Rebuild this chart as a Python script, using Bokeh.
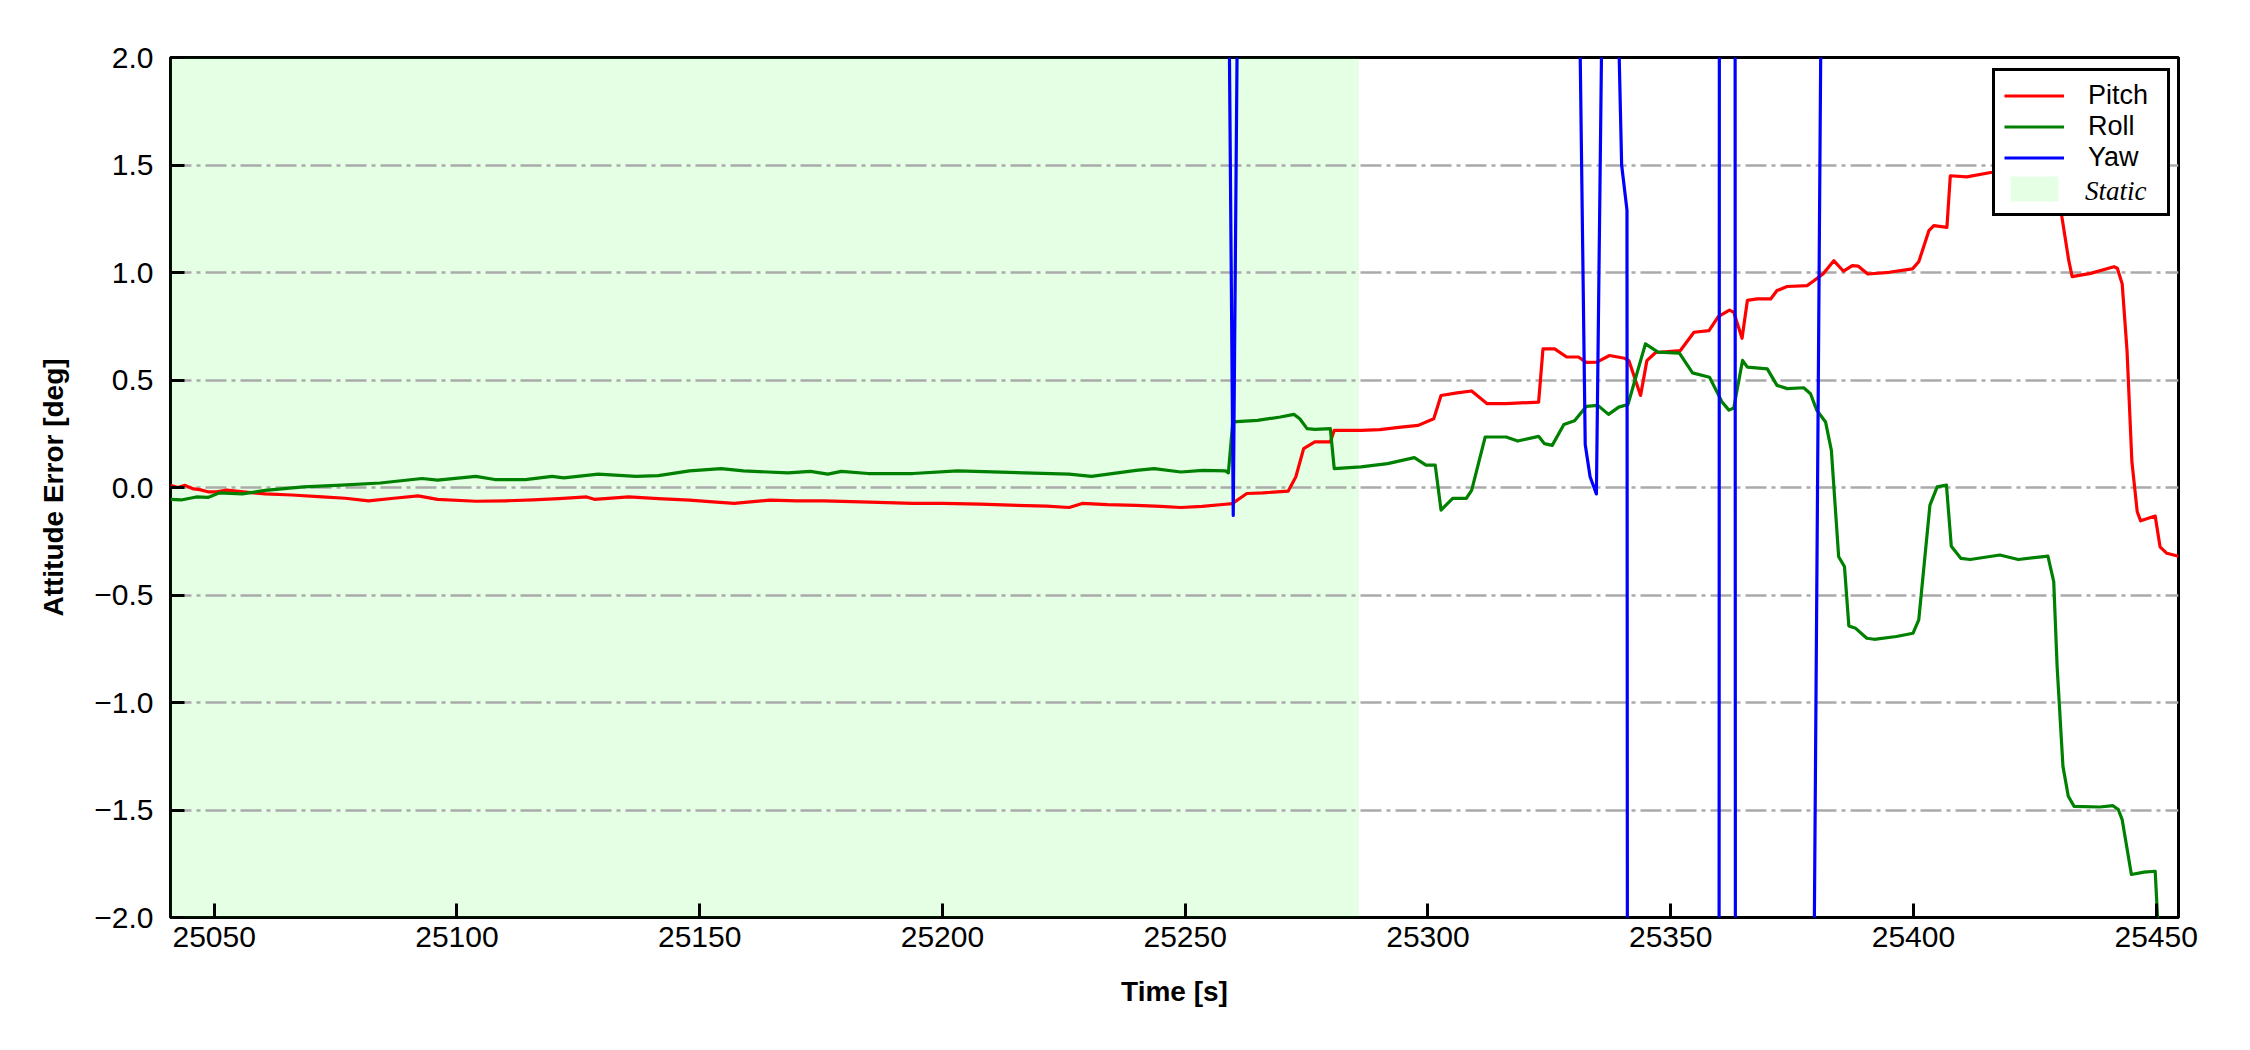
from bokeh.plotting import figure
from bokeh.models import (Range1d, FixedTicker, Legend, LegendItem)
from bokeh.embed import file_html
from bokeh.resources import INLINE

# ---------------- data ----------------
pitch_t = [25041.0, 25042.5, 25044.0, 25045.5, 25047.0, 25048.7, 25050.5, 25052.6, 25056.0, 25060.5,
           25066.0, 25072.3, 25077.0, 25081.8, 25087.0, 25092.0, 25096.0, 25103.9, 25110.0, 25115.7,
           25121.0, 25126.7, 25128.3, 25135.4, 25141.5, 25147.9, 25152.0, 25157.1, 25164.5, 25170.0,
           25175.5, 25185.0, 25193.9, 25200.0, 25207.7, 25214.0, 25221.5, 25226.1, 25228.8, 25234.0,
           25239.9, 25245.0, 25249.1, 25253.5, 25258.3, 25259.7, 25262.7, 25266.0, 25271.2, 25272.8,
           25274.4, 25276.7, 25279.9, 25280.7, 25286.2, 25290.1, 25294.0, 25298.0, 25301.2, 25302.7,
           25306.0, 25309.0, 25312.2, 25316.0, 25322.8, 25323.7, 25326.1, 25328.5, 25331.0, 25332.6,
           25334.8, 25337.4, 25340.5, 25341.4, 25343.8, 25345.1, 25346.9, 25352.0, 25354.8, 25357.9,
           25359.8, 25362.1, 25363.0, 25364.7, 25365.8, 25367.8, 25370.6, 25371.9, 25374.0, 25378.1,
           25379.5, 25381.5, 25383.6, 25385.6, 25387.4, 25388.6, 25390.6, 25395.0, 25399.8, 25401.1,
           25403.2, 25404.2, 25406.9, 25407.6, 25411.0, 25415.9, 25420.0, 25425.0, 25429.5, 25430.6,
           25432.0, 25432.7, 25436.5, 25441.3, 25442.0, 25443.0, 25444.0, 25445.0, 25446.1, 25446.8,
           25449.8, 25450.8, 25452.2, 25454.6]
pitch_v = [0.01, 0.0, 0.01, -0.005, -0.01, -0.02, -0.02, -0.012, -0.02, -0.03,
           -0.035, -0.044, -0.05, -0.062, -0.05, -0.039, -0.055, -0.064, -0.062, -0.058,
           -0.052, -0.044, -0.055, -0.044, -0.052, -0.059, -0.066, -0.074, -0.059, -0.062,
           -0.062, -0.068, -0.074, -0.074, -0.077, -0.082, -0.087, -0.093, -0.074, -0.08,
           -0.083, -0.088, -0.093, -0.088, -0.078, -0.075, -0.028, -0.025, -0.017, 0.05,
           0.181, 0.212, 0.212, 0.266, 0.266, 0.269, 0.28, 0.289, 0.32, 0.428,
           0.44, 0.449, 0.39, 0.39, 0.397, 0.645, 0.645, 0.608, 0.607, 0.582,
           0.583, 0.614, 0.601, 0.59, 0.428, 0.59, 0.628, 0.637, 0.722, 0.73,
           0.795, 0.825, 0.815, 0.694, 0.87, 0.877, 0.877, 0.916, 0.935, 0.939,
           0.962, 0.996, 1.055, 1.006, 1.032, 1.03, 0.993, 1.001, 1.017, 1.05,
           1.195, 1.218, 1.21, 1.45, 1.445, 1.465, 1.47, 1.48, 1.46, 1.256,
           1.055, 0.981, 0.996, 1.027, 1.02, 0.947, 0.637, 0.12, -0.113, -0.155,
           -0.133, -0.276, -0.306, -0.32]

roll_t = [25041.0, 25043.2, 25046.3, 25048.7, 25051.1, 25055.8, 25060.5, 25068.4, 25076.3, 25084.2,
          25092.8, 25096.0, 25103.9, 25107.8, 25114.1, 25119.6, 25122.0, 25129.1, 25136.9, 25141.5,
          25147.9, 25154.4, 25159.0, 25168.2, 25172.8, 25176.4, 25179.2, 25184.7, 25193.9, 25203.1,
          25216.9, 25226.1, 25230.7, 25239.9, 25243.6, 25249.1, 25253.7, 25258.3, 25258.9, 25259.8,
          25264.9, 25269.6, 25272.4, 25273.6, 25275.1, 25276.7, 25279.9, 25280.7, 25286.2, 25291.7,
          25297.2, 25299.6, 25301.5, 25302.7, 25305.1, 25307.9, 25309.0, 25311.8, 25316.1, 25318.5,
          25322.8, 25324.0, 25325.6, 25328.0, 25330.2, 25332.6, 25335.0, 25337.2, 25339.3, 25341.2,
          25344.8, 25347.4, 25351.8, 25354.5, 25358.0, 25360.6, 25362.0, 25363.0, 25364.8, 25365.8,
          25369.9, 25371.9, 25374.0, 25377.4, 25378.8, 25380.1, 25381.9, 25383.1, 25384.6, 25385.8,
          25386.7, 25388.1, 25390.4, 25391.9, 25396.5, 25399.9, 25401.1, 25403.4, 25404.9, 25406.8,
          25407.8, 25409.8, 25411.7, 25417.8, 25421.6, 25427.7, 25428.9, 25429.6, 25430.8, 25431.9,
          25433.1, 25438.4, 25441.1, 25442.2, 25443.0, 25444.9, 25447.5, 25449.8, 25450.4, 25451.5,
          25454.6]
roll_v = [-0.055, -0.058, -0.044, -0.046, -0.025, -0.03, -0.013, 0.003, 0.011, 0.021,
          0.042, 0.034, 0.052, 0.037, 0.037, 0.052, 0.045, 0.062, 0.052, 0.055,
          0.077, 0.088, 0.077, 0.068, 0.075, 0.062, 0.075, 0.065, 0.065, 0.077,
          0.068, 0.062, 0.052, 0.08, 0.088, 0.072, 0.08, 0.077, 0.068, 0.305,
          0.312, 0.328, 0.34, 0.32, 0.274, 0.27, 0.274, 0.088, 0.096, 0.111,
          0.139, 0.104, 0.104, -0.105, -0.051, -0.051, -0.013, 0.235, 0.235, 0.216,
          0.238, 0.204, 0.196, 0.293, 0.31, 0.377, 0.382, 0.34, 0.374, 0.386,
          0.668, 0.63, 0.625, 0.533, 0.513, 0.397, 0.36, 0.37, 0.591, 0.56,
          0.552, 0.475, 0.46, 0.464, 0.436, 0.359, 0.305, 0.173, -0.322, -0.368,
          -0.644, -0.655, -0.701, -0.706, -0.693, -0.678, -0.616, -0.082, 0.003, 0.011,
          -0.273, -0.33, -0.335, -0.314, -0.335, -0.319, -0.438, -0.833, -1.297, -1.436,
          -1.483, -1.486, -1.48, -1.498, -1.545, -1.8, -1.789, -1.785, -2.05, -2.4,
          -2.6]

yaw_t = [25041.0, 25150.0, 25258.9, 25259.9, 25260.9, 25262.0, 25300.0, 25330.8, 25332.4, 25333.4,
         25334.7, 25336.0, 25337.5, 25338.8, 25339.9, 25341.0, 25342.0, 25359.5, 25360.5, 25362.8,
         25363.8, 25379.0, 25381.5, 25420.0, 25454.6]
yaw_v = [3.2, 3.1, 2.6, -0.13, 2.6, 3.0, 3.1, 3.0, 0.2, 0.05,
         -0.03, 2.5, 3.0, 2.6, 1.5, 1.29, -40.0, -40.0, 40.0, 40.0,
         -40.0, -3.85, 3.85, 4.0, 4.0]

static_start = [25041.0]
static_end = [25285.8]

x_ticks = [25050, 25100, 25150, 25200, 25250, 25300, 25350, 25400, 25450]
x_tick_labels = ["25050", "25100", "25150", "25200", "25250", "25300", "25350", "25400", "25450"]
y_ticks = [-2.0, -1.5, -1.0, -0.5, 0.0, 0.5, 1.0, 1.5, 2.0]
y_tick_labels = ["\u22122.0", "\u22121.5", "\u22121.0", "\u22120.5", "0.0", "0.5", "1.0", "1.5", "2.0"]
x_limits = (25041.0, 25454.6)
y_limits = (-2.0, 2.0)

# ---------------- figure ----------------
SANS = "Liberation Sans"
SERIF = "Liberation Serif"

p = figure(frame_width=2008, frame_height=860,
           min_border_left=170, min_border_top=57, min_border_right=64, min_border_bottom=120,
           x_range=Range1d(*x_limits), y_range=Range1d(*y_limits),
           output_backend="svg", toolbar_location=None, tools="")

p.background_fill_color = "white"
p.border_fill_color = "white"
p.outline_line_color = "black"
p.outline_line_width = 3
p.outline_line_alpha = 1.0

# static shading (below grid)
r_static = p.quad(left=static_start, right=static_end, bottom=[y_limits[0]], top=[y_limits[1]],
                  fill_color="#00ff00", fill_alpha=0.1, line_color=None)
r_static.level = "image"

LW = 3.2
r_pitch = p.line(pitch_t, pitch_v, line_color="#ff0000", line_width=LW, line_join="round")
r_roll = p.line(roll_t, roll_v, line_color="#008000", line_width=LW, line_join="round")
r_yaw = p.line(yaw_t, yaw_v, line_color="#0000ff", line_width=LW, line_join="round")
r_dummy = p.line([], [], line_alpha=0)

# grid
p.xgrid.grid_line_color = None
p.ygrid.grid_line_color = "#aaaaaa"
p.ygrid.grid_line_width = 2.6
p.ygrid.grid_line_dash = "21 5 4 5"
p.ygrid.ticker = FixedTicker(ticks=y_ticks)

# axes
for ax in (p.xaxis[0], p.yaxis[0]):
    ax.axis_line_color = None
    ax.major_tick_in = 14
    ax.major_tick_out = 0
    ax.major_tick_line_width = 3
    ax.major_tick_line_color = "black"
    ax.minor_tick_line_color = None
    ax.major_label_text_font = SANS
    ax.major_label_text_font_size = "30px"
    ax.major_label_text_color = "black"
    ax.axis_label_text_font = SANS
    ax.axis_label_text_font_style = "bold"
    ax.axis_label_text_font_size = "28px"
    ax.axis_label_text_color = "black"

p.xaxis[0].ticker = FixedTicker(ticks=x_ticks)
p.xaxis[0].major_label_overrides = {t: l for t, l in zip(x_ticks, x_tick_labels)}
p.xaxis[0].major_label_standoff = 9
p.xaxis[0].axis_label = "Time [s]"
p.xaxis[0].axis_label_standoff = 26

p.yaxis[0].ticker = FixedTicker(ticks=y_ticks)
p.yaxis[0].major_label_overrides = {t: l for t, l in zip(y_ticks, y_tick_labels)}
p.yaxis[0].major_label_standoff = 17
p.yaxis[0].axis_label = "Attitude Error [deg]"
p.yaxis[0].axis_label_standoff = 22

# legend (main box)
leg_a = Legend(items=[LegendItem(label="Pitch", renderers=[r_pitch]),
                      LegendItem(label="Roll", renderers=[r_roll]),
                      LegendItem(label="Yaw", renderers=[r_yaw]),
                      LegendItem(label=" ", renderers=[r_static])],
               location=(1822, 701))
leg_b = Legend(items=[LegendItem(label="Static", renderers=[r_dummy])],
               location=(1831, 710))
for lg in (leg_a, leg_b):
    lg.glyph_width = 60
    lg.glyph_height = 31
    lg.label_height = 31
    lg.label_width = 70
    lg.label_standoff = 24
    lg.spacing = 0
    lg.label_text_font_size = "27px"
    lg.label_text_color = "black"
    lg.label_text_baseline = "middle"
leg_a.padding = 9
leg_a.margin = 0
leg_a.label_text_font = SANS
leg_a.border_line_color = "black"
leg_a.border_line_alpha = 1.0
leg_a.border_line_width = 3
leg_a.background_fill_color = "white"
leg_a.background_fill_alpha = 1.0
leg_b.padding = 0
leg_b.margin = 0
leg_b.label_text_font = SERIF
leg_b.label_text_font_style = "italic"
leg_b.border_line_color = None
leg_b.background_fill_alpha = 0.0
p.add_layout(leg_a)
p.add_layout(leg_b)

open("out.html", "w").write(file_html(p, INLINE))
